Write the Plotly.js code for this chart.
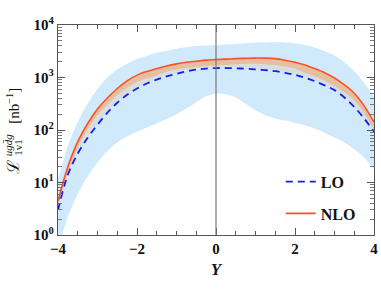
<!DOCTYPE html>
<html>
<head>
<meta charset="utf-8">
<script src="https://cdn.plot.ly/plotly-3.0.1.min.js"></script>
<style>html,body{margin:0;padding:0;background:#fff;}#chart{width:381px;height:289px;}</style>
</head>
<body>
<div id="chart"></div>
<script>
// Rapidity grid
const rapidity = [-4,-3.75,-3.5,-3.25,-3,-2.75,-2.5,-2.25,-2,-1.75,-1.5,-1.25,-1,-0.75,-0.5,-0.25,0,0.25,0.5,0.75,1,1.25,1.5,1.75,2,2.25,2.5,2.75,3,3.25,3.5,3.75,4];
// LO central (nb^-1)
const loCentral = [3.0,14.1,35.5,71,126,214,331,468,617,767,912,1047,1175,1303,1413,1479,1514,1514,1496,1472,1429,1380,1318,1230,1122,989,851,708,575,417,275,166,93];
// NLO central
const nloCentral = [4.5,20,60,133,251,407,617,861,1109,1303,1479,1660,1820,1950,2042,2138,2188,2239,2291,2317,2344,2344,2291,2138,1950,1738,1479,1230,977,724,501,288,141];
// NLO band lower edge
const nloLow = [3.5,15.5,46,102,191,302,457,638,822,966,1096,1288,1413,1514,1585,1660,1698,1738,1778,1799,1820,1778,1738,1622,1479,1230,1047,871,692,525,363,209,100];
// secondary (grey) band lower edge
const greyLow = [3.2,14.8,37,74,132,225,348,491,648,805,958,1099,1234,1368,1484,1553,1590,1590,1571,1546,1500,1449,1384,1292,1178,1038,894,743,604,438,289,174,98];
// LO uncertainty band
const loBandUp = [11.2,50,141,316,603,1000,1413,1820,2239,2570,2951,3236,3548,3758,3981,4074,4169,4266,4365,4467,4571,4624,4677,4624,4467,4169,3715,3162,2630,1950,1318,794,417];
const loBandLow = [0.5,2.24,6.0,13.2,24,40,58,76,93,112,135,162,200,257,339,437,490,479,417,316,240,191,166,151,138,123,107,89,72,58,43,30,18];

const yTickVals = [1,10,100,1000,10000];
const yTickText = ["10<sup>0</sup>","10<sup>1</sup>","10<sup>2</sup>","10<sup>3</sup>","10<sup>4</sup>"];
const xTickVals = [-4,-2,0,2,4];
const xTickText = ["\u22124","\u22122","0","2","4"];

const serif = "Liberation Serif, DejaVu Serif, serif";

const traces = [
  {x: rapidity, y: loBandLow, mode:'lines', line:{width:0, shape:'spline'}, showlegend:false, hoverinfo:'skip'},
  {x: rapidity, y: loBandUp, mode:'lines', line:{width:0, shape:'spline'}, fill:'tonexty', fillcolor:'rgb(208,233,251)', showlegend:false, hoverinfo:'skip'},
  {x: rapidity, y: greyLow, mode:'lines', line:{width:0, shape:'spline'}, showlegend:false, hoverinfo:'skip'},
  {x: rapidity, y: nloLow, mode:'lines', line:{width:0, shape:'spline'}, fill:'tonexty', fillcolor:'rgb(216,221,222)', showlegend:false, hoverinfo:'skip'},
  {x: rapidity, y: nloCentral, mode:'lines', line:{width:0, shape:'spline'}, fill:'tonexty', fillcolor:'rgb(228,192,160)', showlegend:false, hoverinfo:'skip'},
  {x: rapidity, y: loCentral, mode:'lines', name:'LO', legendgroup:'a', line:{color:'rgb(20,30,240)', width:1.8, dash:'7px,5px', shape:'spline'}},
  {x: rapidity, y: nloCentral, mode:'lines', name:'NLO', legendgroup:'b', line:{color:'rgb(255,80,40)', width:1.6, shape:'spline'}}
];

function yp(py){ return (235.5 - py) / 210.5; }
function xp(px){ return (px - 58) / 316; }

const annots = [
  {text:'\u2112', x:xp(14), y:yp(167), font:{family:serif, size:17, color:'#111'}},
  {text:'<i>ugd\u0304g</i>', x:xp(7.5), y:yp(145), font:{family:serif, size:11, color:'#111'}},
  {text:'1v1', x:xp(18), y:yp(148), font:{family:serif, size:11, color:'#111'}},
  {text:'[nb<sup>\u22121</sup>]', x:xp(13), y:yp(106), font:{family:serif, size:15, color:'#111'}}
].map(a => Object.assign({xref:'paper', yref:'paper', xanchor:'center', yanchor:'middle', showarrow:false, textangle:-90}, a));

const layout = {
  width:381, height:289,
  margin:{l:58, r:7, t:25, b:54},
  paper_bgcolor:'#fff', plot_bgcolor:'#fff',
  showlegend:true,
  legend:{x:0.705, y:0.335, xanchor:'left', yanchor:'top', bgcolor:'rgba(0,0,0,0)',
          font:{family:serif, size:16, weight:'bold', color:'#111'}, traceorder:'grouped', tracegroupgap:8,
          itemwidth:30},
  xaxis:{range:[-4,4], tickvals:xTickVals, ticktext:xTickText, ticks:'inside', ticklen:7, tickcolor:'#555',
         showline:true, linecolor:'#555', linewidth:1.2, mirror:'allticks', showgrid:false, zeroline:false,
         tickfont:{family:serif, size:15, weight:'bold', color:'#111'},
         minor:{dtick:0.5, ticks:'inside', ticklen:4, tickcolor:'#555', showgrid:false},
         title:{text:'Y', font:{family:serif, size:17, weight:'bold', style:'italic', color:'#111'}, standoff:6}},
  yaxis:{type:'log', range:[0,4], tickvals:yTickVals, ticktext:yTickText, ticks:'inside', ticklen:7, tickcolor:'#555',
         showline:true, linecolor:'#555', linewidth:1.2, mirror:'allticks', showgrid:false, zeroline:false,
         tickfont:{family:serif, size:15, weight:'bold', color:'#111'},
         minor:{dtick:'D1', ticks:'inside', ticklen:4, tickcolor:'#777', showgrid:false}},
  annotations: annots,
  shapes:[{type:'line', xref:'x', yref:'paper', x0:0, x1:0, y0:0, y1:1, line:{color:'#777', width:1.2}}]
};

Plotly.newPlot('chart', traces, layout, {displayModeBar:false, staticPlot:true});
</script>
</body>
</html>
